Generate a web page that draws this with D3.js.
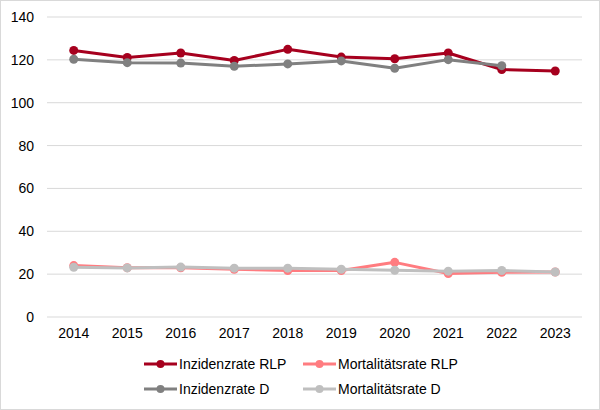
<!DOCTYPE html>
<html>
<head>
<meta charset="utf-8">
<script src="https://cdn.jsdelivr.net/npm/d3@7"></script>
<style>
  body { margin: 0; background: #fff; }
  text { font-family: "Liberation Sans", Arial, sans-serif; fill: #000; }
</style>
</head>
<body>
<div id="chart"></div>
<script>
// data
var years = ["2014","2015","2016","2017","2018","2019","2020","2021","2022","2023"];
var inzidenzRLP = [124.4, 121.1, 123.2, 119.7, 124.9, 121.3, 120.5, 123.2, 115.5, 114.8];
var mortalitaetRLP = [24.0, 23.0, 23.0, 22.3, 21.7, 21.7, 25.5, 20.3, 20.9, 21.0];
var inzidenzD = [120.3, 118.7, 118.5, 117.0, 118.1, 119.5, 116.1, 120.1, 117.3, null];
var mortalitaetD = [23.2, 22.9, 23.3, 22.8, 22.8, 22.3, 21.8, 21.4, 21.7, 21.0];
var yTicks = [0, 20, 40, 60, 80, 100, 120, 140];

var series = [
  {name: "Inzidenzrate RLP", values: inzidenzRLP, color: "#A6001E"},
  {name: "Mortalitätsrate RLP", values: mortalitaetRLP, color: "#FF7C80"},
  {name: "Inzidenzrate D", values: inzidenzD, color: "#808080"},
  {name: "Mortalitätsrate D", values: mortalitaetD, color: "#BFBFBF"}
];

var W = 600, H = 410;
var margin = {top: 17, right: 18, bottom: 93, left: 47};
var width = W - margin.left - margin.right,
    height = H - margin.top - margin.bottom;

var svg = d3.select("#chart").append("svg")
    .attr("width", W)
    .attr("height", H);

// outer frame
svg.append("rect")
    .attr("x", 0.5).attr("y", 0.5)
    .attr("width", W - 1).attr("height", H - 1)
    .attr("fill", "none")
    .attr("stroke", "#D9D9D9");

var chart = svg.append("g")
    .attr("transform", "translate(" + margin.left + "," + margin.top + ")");

var x = d3.scaleBand().domain(years).range([0, width]);
var y = d3.scaleLinear().domain([0, 140]).range([height, 0]);

// grid
chart.append("g")
  .selectAll("line").data(yTicks).enter().append("line")
    .attr("x1", 0).attr("x2", width)
    .attr("y1", function(d){ return y(d); })
    .attr("y2", function(d){ return y(d); })
    .attr("stroke", "#D9D9D9")
    .attr("stroke-width", 1);

// y axis
var yAxis = chart.append("g")
    .call(d3.axisLeft(y).tickValues(yTicks).tickSize(0).tickPadding(13));
yAxis.select(".domain").remove();
yAxis.selectAll("text").style("font-size", "14px").style("font-family", "Liberation Sans, Arial, sans-serif");

// x axis
var xAxis = chart.append("g")
    .attr("transform", "translate(0," + height + ")")
    .call(d3.axisBottom(x).tickSize(0).tickPadding(11));
xAxis.select(".domain").remove();
xAxis.selectAll("text").style("font-size", "14px").style("font-family", "Liberation Sans, Arial, sans-serif");

// lines
var line = d3.line()
    .defined(function(d){ return d != null; })
    .x(function(d, i){ return x(years[i]) + x.bandwidth() / 2; })
    .y(function(d){ return y(d); });

var groups = chart.selectAll(".series").data(series).enter().append("g")
    .attr("class", "series");

groups.append("path")
    .attr("d", function(d){ return line(d.values); })
    .attr("fill", "none")
    .attr("stroke", function(d){ return d.color; })
    .attr("stroke-width", 3)
    .attr("stroke-linejoin", "round");

groups.each(function(s){
  d3.select(this).selectAll("circle")
    .data(s.values.map(function(v, i){ return {v: v, i: i}; }).filter(function(d){ return d.v != null; }))
    .enter().append("circle")
      .attr("cx", function(d){ return x(years[d.i]) + x.bandwidth() / 2; })
      .attr("cy", function(d){ return y(d.v); })
      .attr("r", 4.5)
      .attr("fill", s.color);
});

// legend
var legendPos = [[144, 364], [303, 364], [144, 389], [303, 389]];
var legend = svg.selectAll(".legend").data(series).enter().append("g")
    .attr("class", "legend")
    .attr("transform", function(d, i){ return "translate(" + legendPos[i][0] + "," + legendPos[i][1] + ")"; });
legend.append("line")
    .attr("x1", 0).attr("x2", 33)
    .attr("stroke", function(d){ return d.color; })
    .attr("stroke-width", 3);
legend.append("circle")
    .attr("cx", 16.5).attr("r", 4)
    .attr("fill", function(d){ return d.color; });
legend.append("text")
    .attr("x", 35)
    .attr("dy", "0.35em")
    .style("font-size", "14px")
    .text(function(d){ return d.name; });
</script>
</body>
</html>
